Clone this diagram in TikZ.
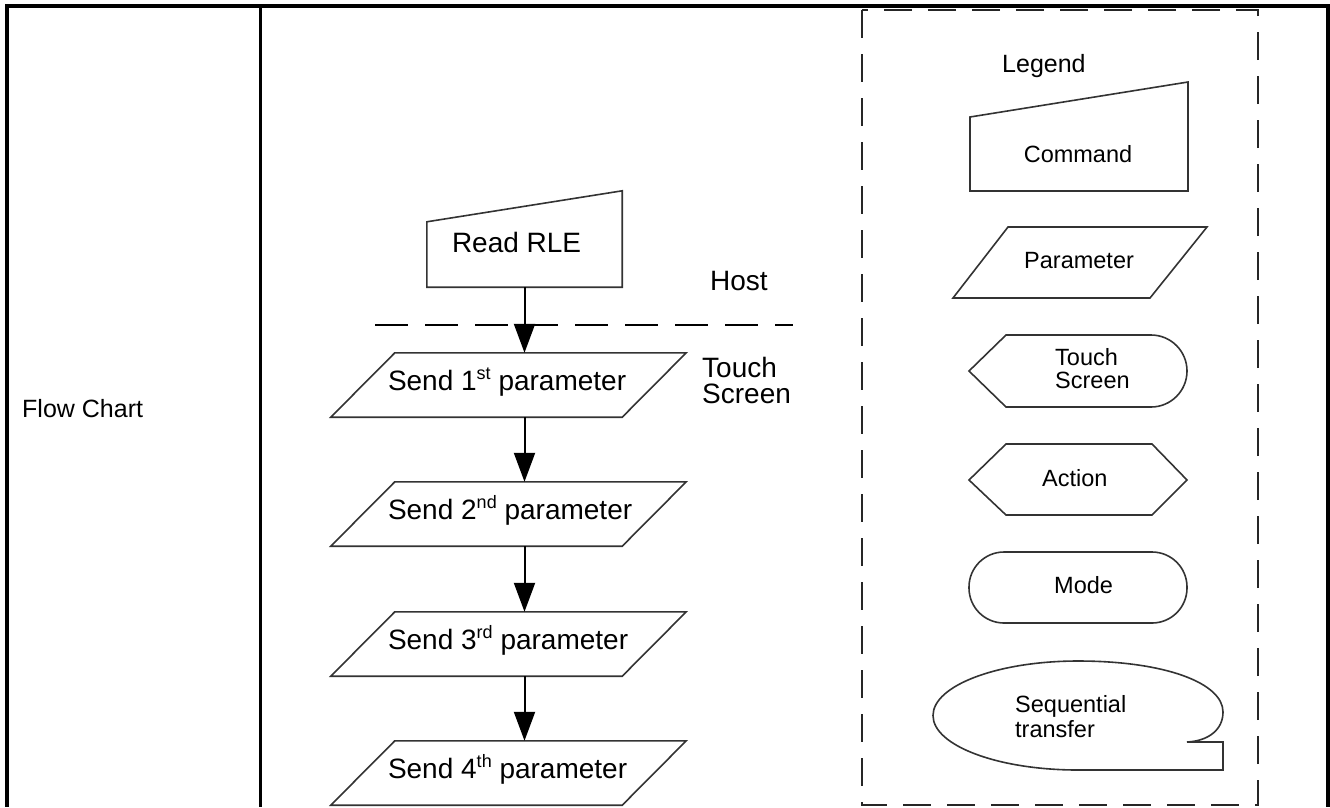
\documentclass[tikz,border=0pt]{standalone}
\usepackage{fontspec}
\setmainfont{Liberation Sans}
\usetikzlibrary{arrows.meta,calc}
% ordinal suffix set as a raised, smaller superscript
\newcommand\ordsup[1]{\raisebox{11pt}{\fontsize{18}{18}\selectfont #1}}
% two stacked lines whose baseline is the first line
\newcommand\twolines[2]{\vtop{\hbox{#1}\hbox{#2}}}
\begin{document}
\begin{tikzpicture}[x=1pt,y=-1pt,
  frame/.style={line width=4pt, black},
  outline/.style={draw=black!80, line width=1.6pt, line join=miter},
  flow/.style={line width=2pt, black, -{Triangle[length=29pt,width=21pt]}},
  chart/.style={font=\fontsize{28}{26}\selectfont, inner sep=0pt},
  legendtext/.style={font=\fontsize{23.5}{23}\selectfont, inner sep=0pt},
  holder/.style={chart, inner xsep=25pt, text height=21pt, text depth=10pt},
  boundary/.style={line width=2pt, black, dash pattern=on 33pt off 17pt},
  legendbox/.style={line width=2.2pt, black!85, dash pattern=on 28pt off 16pt}
]
\useasboundingbox (0,0) rectangle (1330,807);

% table frame
\draw[frame] (5,6) -- (1330,6);
\draw[frame] (7,4) -- (7,807);
\draw[frame] (1328,4) -- (1328,807);
\draw[line width=3pt] (260.5,6) -- (260.5,807);

\node[font=\fontsize{25}{30}\selectfont, inner sep=0pt, anchor=base west] (rowlabel) at (22,417) {Flow Chart};

% flow chart nodes (text left-aligned inside a fixed-width box)
\node[holder, minimum height=96pt, text height=26pt, text depth=0pt] (rle) at (524.5,239)
  {\makebox[145pt][l]{Read RLE}};
\node[holder, minimum height=64pt] (p1) at (508.5,385) {\makebox[241pt][l]{Send 1\ordsup{st} parameter}};
\node[holder, minimum height=64pt] (p2) at (508.5,514) {\makebox[241pt][l]{Send 2\ordsup{nd} parameter}};
\node[holder, minimum height=64pt] (p3) at (508.5,644) {\makebox[241pt][l]{Send 3\ordsup{rd} parameter}};
\node[holder, minimum height=64pt] (p4) at (508.5,773) {\makebox[241pt][l]{Send 4\ordsup{th} parameter}};

% manual-input outline of the command
\draw[outline] (rle.north east) -- (rle.south east) -- (rle.south west)
  -- ($(rle.north west)+(0,31)$) -- cycle;
% parallelogram outlines of the parameters
\foreach \p in {p1,p2,p3,p4}
  \draw[outline] ($(\p.north west)+(32,0)$) -- ($(\p.north east)+(32,0)$)
    -- ($(\p.south east)+(-32,0)$) -- ($(\p.south west)+(-32,0)$) -- cycle;

% host / touch screen boundary
\draw[boundary] (375,325) -- (793,325);
\node[chart, anchor=base west] (host) at (710,290) {Host};
\node[chart, anchor=base west] (device) at (702,377) {\twolines{Touch}{Screen}};

% connectors
\draw[flow] (rle.south) -- (rle.south |- p1.north);
\foreach \a/\b in {p1/p2,p2/p3,p3/p4}
  \draw[flow] (rle.south |- \a.south) -- (rle.south |- \b.north);

% legend
\draw[legendbox] (862,10) rectangle (1258,805);
\node[font=\fontsize{25}{30}\selectfont, inner sep=0pt, anchor=base west] (legend) at (1002,72) {Legend};

\draw[outline] (970,117) -- (1188,82) -- (1188,191) -- (970,191) -- cycle;
\node[legendtext, anchor=base] (lcommand) at (1078,162) {Command};

\draw[outline] (1008,227) -- (1207,227) -- (1150,298) -- (953,298) -- cycle;
\node[legendtext, anchor=base west] (lparam) at (1024,268) {Parameter};

\draw[outline] (969,371) -- (1006,335) -- (1151,335)
  arc[start angle=-90, end angle=90, radius=36] -- (1006,407) -- cycle;
\node[legendtext, anchor=base west] (ltouch) at (1055,365) {\twolines{Touch}{Screen}};

\draw[outline] (969,480) -- (1006,444) -- (1152,444) -- (1187,480)
  -- (1152,515) -- (1006,515) -- cycle;
\node[legendtext, anchor=base west] (laction) at (1042,486) {Action};

\draw[outline, rounded corners=35pt] (969,552) rectangle (1187,623);
\node[legendtext, anchor=base west] (lmode) at (1054,593) {Mode};

\draw[outline] (1078,770) arc[start angle=90, end angle=270, x radius=145, y radius=54.5]
  .. controls (1165,661) and (1223,683) .. (1223,712)
  .. controls (1223,730) and (1208,741) .. (1187,742)
  -- (1223,742) -- (1223,770) -- cycle;
\node[legendtext, anchor=base west] (lseq) at (1015,712) {\fontsize{23.5}{25}\selectfont\twolines{Sequential}{transfer}};
\end{tikzpicture}
\end{document}
